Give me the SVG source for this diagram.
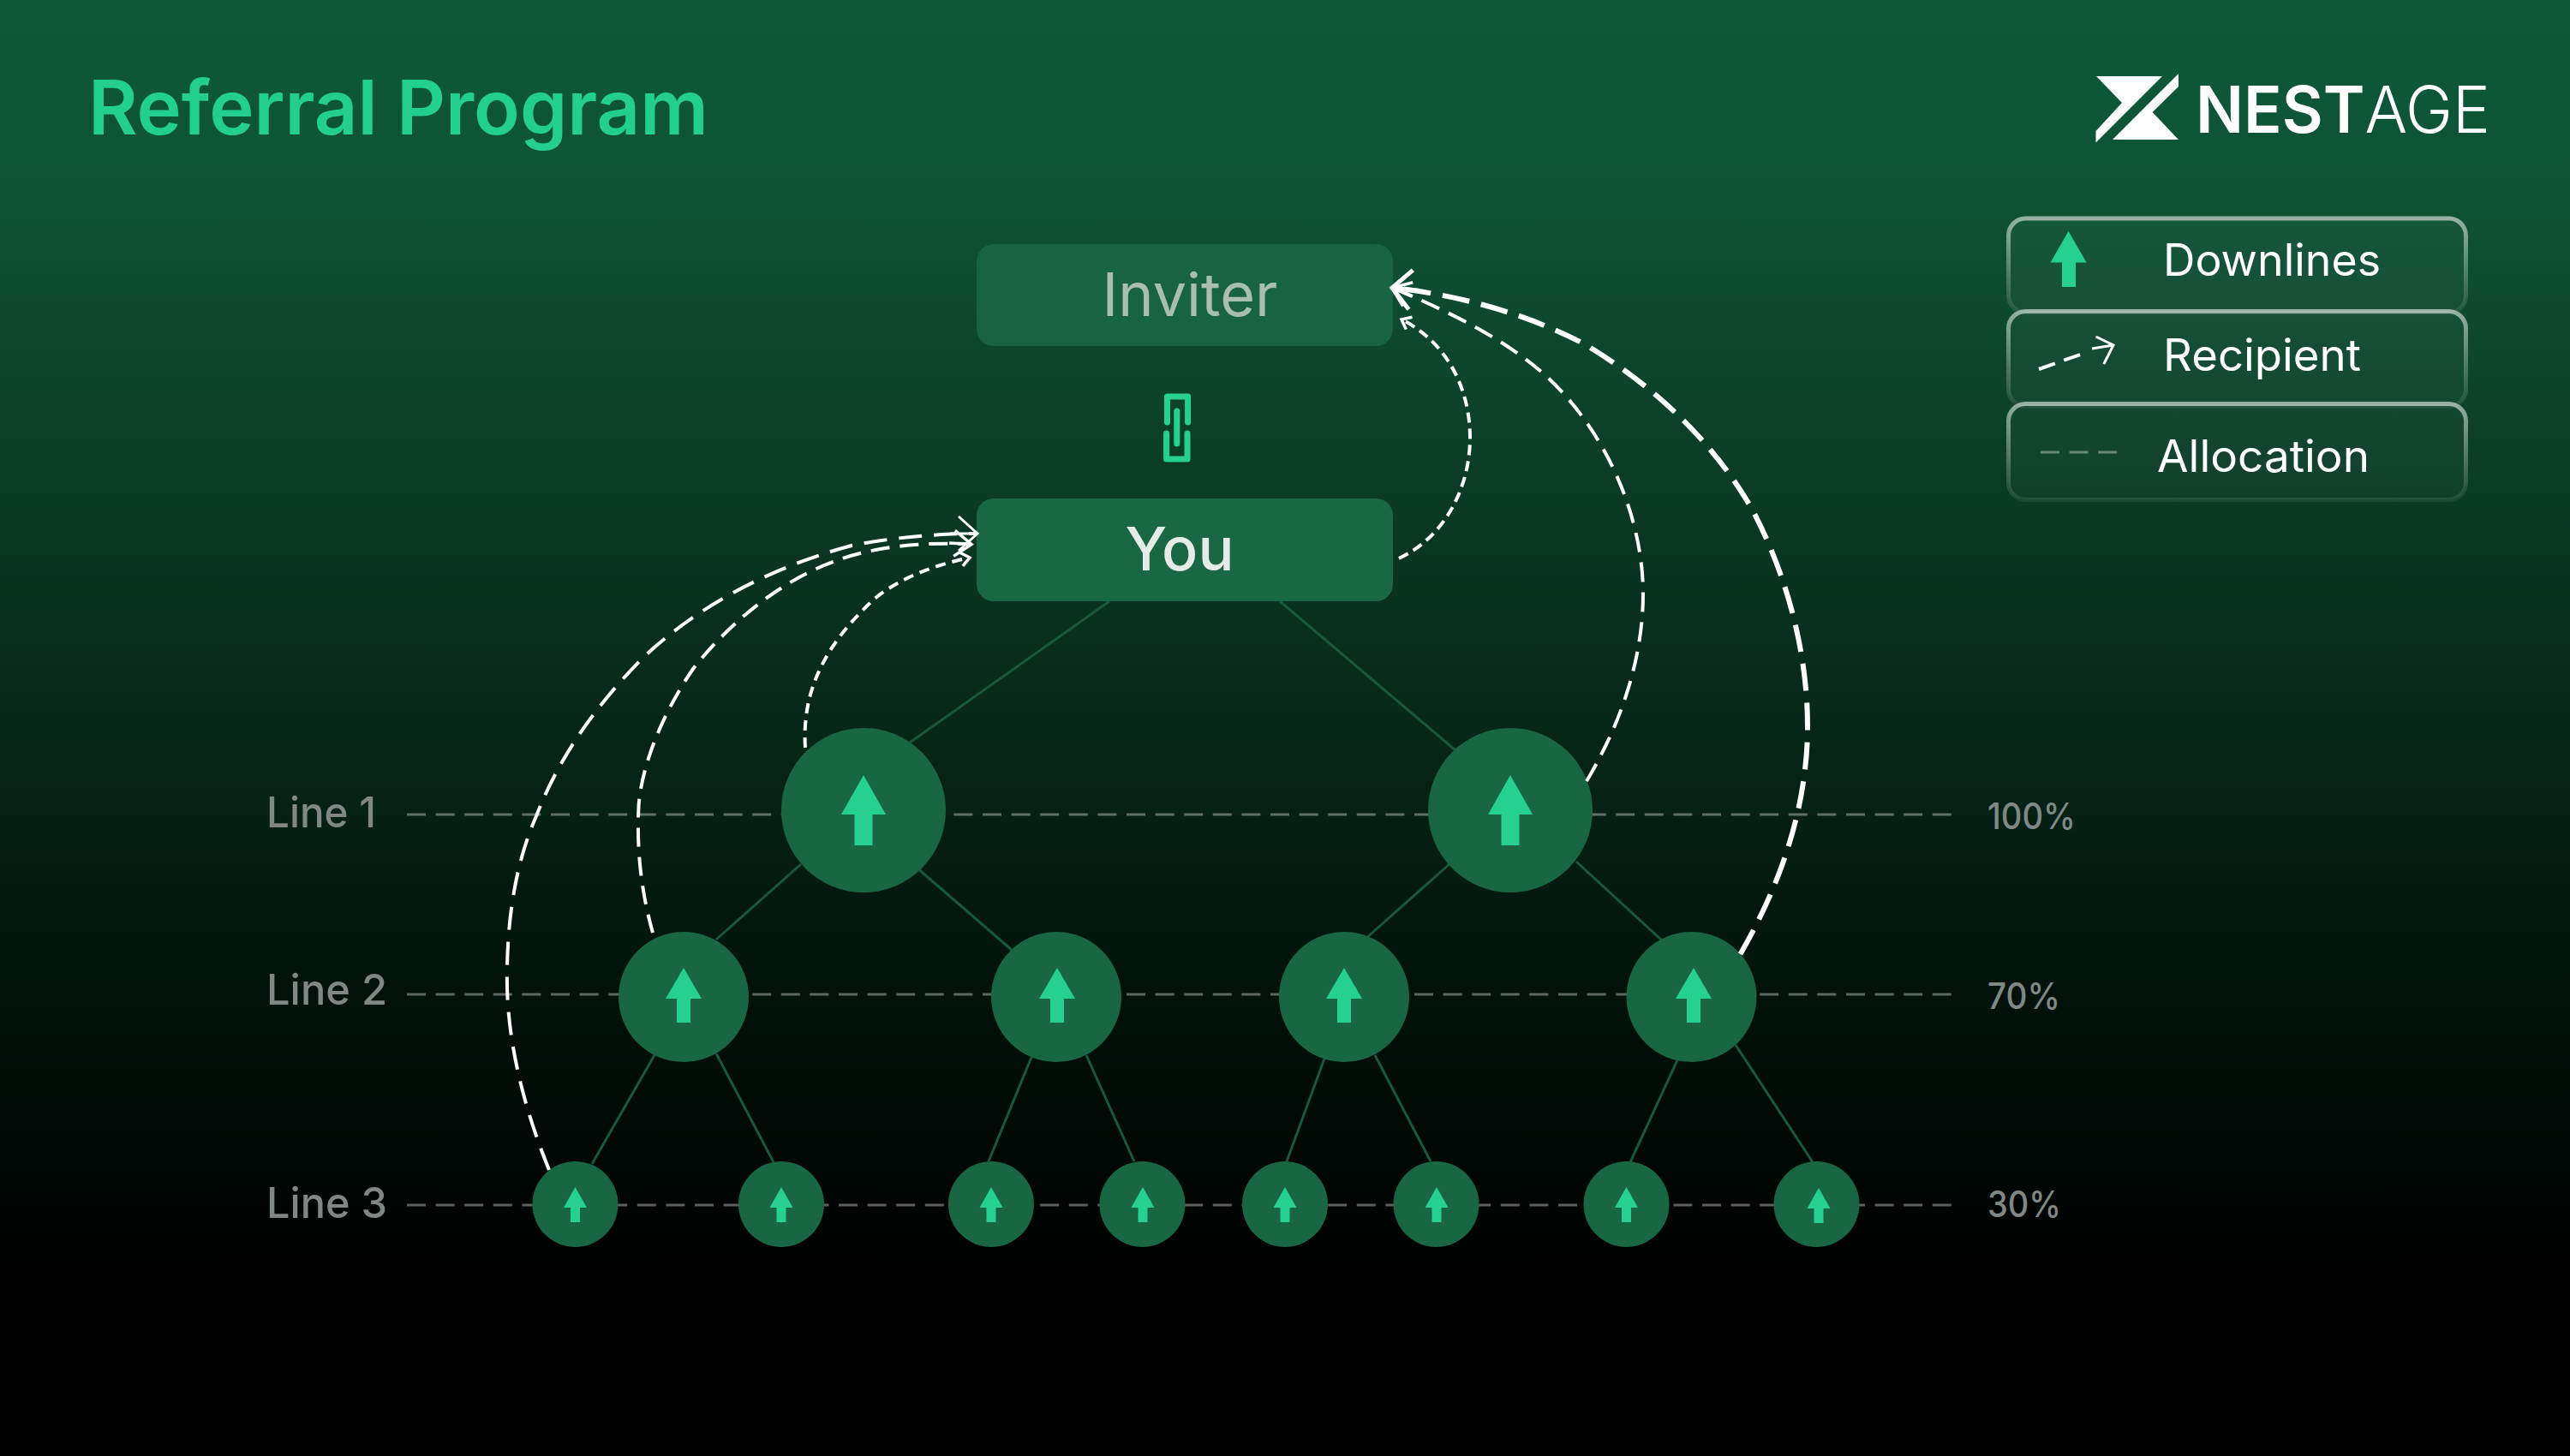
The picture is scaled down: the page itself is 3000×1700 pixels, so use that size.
<svg xmlns="http://www.w3.org/2000/svg" width="3000" height="1700" viewBox="0 0 3000 1700">
<defs>
<linearGradient id="bg" x1="0" y1="0" x2="0" y2="1"><stop offset="0" stop-color="#0e5a3b"/><stop offset="0.118" stop-color="#0e5336"/><stop offset="0.176" stop-color="#0e4e33"/><stop offset="0.34" stop-color="#0b3a25"/><stop offset="0.48" stop-color="#07291a"/><stop offset="0.69" stop-color="#02110a"/><stop offset="0.88" stop-color="#000"/><stop offset="1" stop-color="#000"/></linearGradient>
<linearGradient id="ls" x1="0" y1="0" x2="0" y2="1"><stop offset="0" stop-color="#fff" stop-opacity=".55"/><stop offset="1" stop-color="#fff" stop-opacity=".07"/></linearGradient>
<marker id="ahc" markerUnits="userSpaceOnUse" markerWidth="60" markerHeight="60" refX="40" refY="30" orient="auto" viewBox="0 0 60 60"><path d="M18,7 L40,30 L18,53 M8,30 H40" fill="none" stroke="#fff" stroke-width="5"/></marker>
<marker id="ahb" markerUnits="userSpaceOnUse" markerWidth="60" markerHeight="60" refX="40" refY="30" orient="auto" viewBox="0 0 60 60"><path d="M20,15 L40,30 L20,45 M14,30 H40" fill="none" stroke="#fff" stroke-width="3.5"/></marker>
<marker id="ahf" markerUnits="userSpaceOnUse" markerWidth="60" markerHeight="60" refX="40" refY="30" orient="auto" viewBox="0 0 60 60"><path d="M18,10 L40,30 L18,50 M8,30 H40" fill="none" stroke="#fff" stroke-width="3"/></marker>
<marker id="ahs" markerUnits="userSpaceOnUse" markerWidth="30" markerHeight="30" refX="20" refY="15" orient="auto" viewBox="0 0 30 30"><path d="M10,7 L20,15 L10,23" fill="none" stroke="#fff" stroke-width="3.500"/></marker>
<path id="a1" d="M0,-41 L26,5 H10.500 V41 H-10.500 V5 H-26 Z"/>
<path id="a2" d="M0,-34 L21,2 H8 V30 H-8 V2 H-21 Z"/>
<path id="a3" d="M0,-20 L13.500,4 H5.500 V21 H-5.500 V4 H-13.500 Z"/>
</defs>
<style>
text{font-family:"Inter","Liberation Sans",sans-serif}
.arrow{fill:#26d092}
.c{fill:#186742}
.tree{stroke:#18583c;stroke-width:3;fill:none}
.alloc{stroke:#fff;stroke-opacity:.36;stroke-width:3;stroke-dasharray:22 11.6;fill:none}
.rec{stroke:#fff;fill:none}
.lab{font-size:50px;font-weight:500;fill:#7f8885}
.pct{font-size:42px;font-weight:500;fill:#7f8885}
.leg{font-size:52px;fill:#fff}
.lb{fill:#fff;fill-opacity:.035;stroke:url(#ls);stroke-width:5}
</style>
<rect id="background" width="3000" height="1700" fill="url(#bg)"/>
<text id="title" x="103" y="157" font-size="88" font-weight="600" fill="#22cf90" textLength="724" lengthAdjust="spacingAndGlyphs">Referral Program</text>
<g id="logo" fill="#fff">
<polygon points="2447,89 2524,89 2446.500,166.500 2446.500,153 2477,120"/>
<polygon points="2543,86 2543,101 2512.600,131 2543,163 2466,163"/>
<text x="2563" y="155" font-size="76" textLength="344" lengthAdjust="spacingAndGlyphs"><tspan font-weight="600">NEST</tspan><tspan font-weight="300">AGE</tspan></text>
</g>
<g id="legend">
<g id="legend-downlines"><rect class="lb" x="2344.500" y="255" width="534" height="110" rx="20"/><path class="arrow" d="M2414.500,270 L2435.600,306.400 H2423 V335 H2407 V306.400 H2393.500 Z"/><text class="leg" x="2525" y="322" textLength="254" lengthAdjust="spacingAndGlyphs">Downlines</text></g>
<g id="legend-recipient"><rect class="lb" x="2344.500" y="363.500" width="534" height="111" rx="20"/><path d="M2380,431 L2434,412" class="rec" stroke-width="4" stroke-dasharray="20 11"/><path d="M2446.500,393 L2467,403 L2455.800,425 M2442,407 L2467,403" class="rec" stroke-width="3"/><text class="leg" x="2525" y="433" textLength="231" lengthAdjust="spacingAndGlyphs">Recipient</text></g>
<g id="legend-allocation"><rect class="lb" x="2344.500" y="471.500" width="534" height="112" rx="20"/><path d="M2382,528 H2472" class="alloc"/><text class="leg" x="2518" y="551" textLength="248" lengthAdjust="spacingAndGlyphs">Allocation</text></g>
</g>
<g id="allocation-lines">
<path class="alloc" d="M475,951 H2283"/><path class="alloc" d="M475,1161 H2283"/><path class="alloc" d="M475,1407 H2283"/>
</g>
<g id="connectors">
<path class="tree" d="M1295,702 L1062,867 M1494,702 L1699,876 M935,1009 L836,1097 M1073.600,1016 L1182,1110 M1693,1008 L1594,1096 M1840,1006 L1940,1098 M764,1232 L691,1359 M836,1230 L903,1357 M1205,1232 L1154,1356 M1268,1232 L1324,1356 M1546,1236 L1502,1356 M1605,1232 L1670,1356 M1958,1238 L1903,1357 M2026,1220 L2116,1357"/>
</g>
<g id="inviter"><rect x="1140" y="285" width="486" height="119" rx="20" fill="#186343"/><text x="1389" y="369" font-size="70" text-anchor="middle" fill="#a9bdb3" textLength="205" lengthAdjust="spacingAndGlyphs">Inviter</text></g>
<g id="you"><rect x="1140" y="582" width="486" height="120" rx="20" fill="#1a6843"/><text x="1377" y="666" font-size="70" font-weight="500" text-anchor="middle" fill="#e5ece8" textLength="127" lengthAdjust="spacingAndGlyphs">You</text></g>
<g id="chain" fill="none" stroke="#26d092" stroke-width="7" stroke-linecap="round" stroke-linejoin="round"><path d="M1362.500,493 V463 H1386.600 V493"/><path d="M1361.600,506 V536 H1386 V506"/><path d="M1373.800,480 V518"/></g>
<g id="n1a"><circle class="c" cx="1008" cy="946" r="96"/><use href="#a1" class="arrow" x="1008" y="946"/></g>
<g id="n1b"><circle class="c" cx="1763" cy="946" r="96"/><use href="#a1" class="arrow" x="1763" y="946"/></g>
<g id="n2a"><circle class="c" cx="798" cy="1164" r="76"/><use href="#a2" class="arrow" x="798" y="1164"/></g>
<g id="n2b"><circle class="c" cx="1233" cy="1164" r="76"/><use href="#a2" class="arrow" x="1234" y="1164"/></g>
<g id="n2c"><circle class="c" cx="1569" cy="1164" r="76"/><use href="#a2" class="arrow" x="1569" y="1164"/></g>
<g id="n2d"><circle class="c" cx="1974.500" cy="1164" r="76"/><use href="#a2" class="arrow" x="1977" y="1164"/></g>
<g id="n3a"><circle class="c" cx="671.500" cy="1406" r="50"/><use href="#a3" class="arrow" x="671.500" y="1406"/></g>
<g id="n3b"><circle class="c" cx="912" cy="1406" r="50"/><use href="#a3" class="arrow" x="912" y="1406"/></g>
<g id="n3c"><circle class="c" cx="1157" cy="1406" r="50"/><use href="#a3" class="arrow" x="1157" y="1406"/></g>
<g id="n3d"><circle class="c" cx="1333.500" cy="1406" r="50"/><use href="#a3" class="arrow" x="1334" y="1406"/></g>
<g id="n3e"><circle class="c" cx="1500" cy="1406" r="50"/><use href="#a3" class="arrow" x="1500" y="1406"/></g>
<g id="n3f"><circle class="c" cx="1676.500" cy="1406" r="50"/><use href="#a3" class="arrow" x="1677" y="1406"/></g>
<g id="n3g"><circle class="c" cx="1898.500" cy="1406" r="50"/><use href="#a3" class="arrow" x="1898.500" y="1406"/></g>
<g id="n3h"><circle class="c" cx="2120.500" cy="1406" r="50"/><use href="#a3" class="arrow" x="2123" y="1407"/></g>
<g id="recipient-arrows">
<path class="rec" stroke-width="4" stroke-dasharray="12 7" marker-end="url(#ahs)" d="M1633,652 C1690,625 1716,565 1716,511 C1716,455 1690,400 1636,373"/>
<path class="rec" stroke-width="4" stroke-dasharray="23 12" marker-end="url(#ahb)" d="M1852,912 C1895,840 1918,765 1918,693 C1918,610 1880,510 1807,441 C1760,398 1695,365 1625,336"/>
<path class="rec" stroke-width="6" stroke-dasharray="32 14" marker-end="url(#ahc)" d="M2031.500,1114 C2080,1030 2110,940 2110,848 C2110,760 2085,670 2046,596 C2000,515 1930,450 1850,402 C1790,370 1710,345 1625,336"/>
<path class="rec" stroke-width="4" stroke-dasharray="12 8" marker-end="url(#ahs)" d="M940,873 C936,810 960,755 1021,699 C1050,675 1090,660 1132,651"/>
<path class="rec" stroke-width="4" stroke-dasharray="22 12" marker-end="url(#ahb)" d="M762,1089 C748,1040 743,990 745.600,940 C749,895 772,835 809,781 C845,735 905,680 975,655 C1015,640 1070,632 1134,635.500"/>
<path class="rec" stroke-width="4" stroke-dasharray="27 14" marker-end="url(#ahf)" d="M641,1366 C606,1280 590,1200 592,1131 C593,1060 605,1000 626,953 C650,890 690,830 747.500,771 C805,715 890,665 994,637 C1040,628 1090,623 1141,623"/>
</g>
<g id="labels">
<text class="lab" x="311" y="966" textLength="128" lengthAdjust="spacingAndGlyphs">Line 1</text>
<text class="lab" x="311" y="1173" textLength="141" lengthAdjust="spacingAndGlyphs">Line 2</text>
<text class="lab" x="311" y="1422" textLength="141" lengthAdjust="spacingAndGlyphs">Line 3</text>
<text class="pct" x="2320" y="968" textLength="103" lengthAdjust="spacingAndGlyphs">100%</text>
<text class="pct" x="2320" y="1178" textLength="85" lengthAdjust="spacingAndGlyphs">70%</text>
<text class="pct" x="2320" y="1421" textLength="86" lengthAdjust="spacingAndGlyphs">30%</text>
</g>
</svg>
